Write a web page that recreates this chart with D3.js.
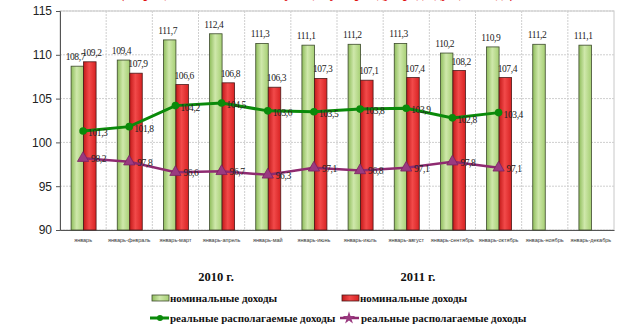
<!DOCTYPE html>
<html><head><meta charset="utf-8">
<script src="https://cdn.jsdelivr.net/npm/d3@7"></script>
<style>body{margin:0;background:#fff}svg{display:block}</style>
</head><body>
<svg id="c" width="634" height="333"></svg>
<script>
const categories = ["январь","январь-февраль","январь-март","январь-апрель","январь-май","январь-июнь","январь-июль","январь-август","январь-сентябрь","январь-октябрь","январь-ноябрь","январь-декабрь"];
const nominal2010 = [108.7,109.4,111.7,112.4,111.3,111.1,111.2,111.3,110.2,110.9,111.2,111.1];
const nominal2011 = [109.2,107.9,106.6,106.8,106.3,107.3,107.1,107.4,108.2,107.4];
const real2010 = [101.3,101.8,104.2,104.5,103.6,103.5,103.8,103.9,102.8,103.4];
const real2011 = [98.2,97.8,96.6,96.7,96.3,97.1,96.8,97.1,97.8,97.1];
const yTicks = [90,95,100,105,110,115];
const yearLabels = ["2010 г.","2011 г."];
const legendLabels = ["номинальные доходы","номинальные доходы","реальные располагаемые доходы","реальные располагаемые доходы"];
const title = "(в процентах к соответствующему периоду предыдущего года)";

const svg = d3.select("#c");
const fmt = v => String(v.toFixed(1)).replace(".", ",");

const defs = svg.append("defs");
function grad(id, stops){
  const g = defs.append("linearGradient").attr("id", id).attr("x1","0").attr("x2","1").attr("y1","0").attr("y2","0");
  stops.forEach(s => g.append("stop").attr("offset", s[0]).attr("stop-color", s[1]));
}
grad("gG", [[0,"#8fbd5c"],[0.45,"#cfe8ab"],[1,"#a6cf74"]]);
grad("gR", [[0,"#c41a1a"],[0.45,"#f24a4a"],[1,"#d82222"]]);

// cut-off red title at top (only descenders visible, as in the reference)
svg.append("text").attr("x", 317).attr("y", -2).attr("text-anchor","middle")
  .attr("font-family","Liberation Serif").attr("font-weight","bold").attr("font-size",14)
  .attr("fill","#e01010").text(title);

const x = d3.scaleBand().domain(categories).range([60, 614]).padding(0);
const xs = d3.scaleBand().domain(["a","b"]).range([-12, 13]);
const y = d3.scaleLinear().domain([90, 115]).range([230, 11]);
const cx = c => x(c) + x.bandwidth()/2;

// plot frame
svg.append("rect").attr("x",60).attr("y",11).attr("width",554).attr("height",219)
  .attr("fill","#fff").attr("stroke","#c8c8c8");

// horizontal grid
svg.append("g").selectAll("line").data(yTicks).join("line")
  .attr("x1",60).attr("x2",614).attr("y1",d=>y(d)).attr("y2",d=>y(d))
  .attr("stroke","#cfcfcf").attr("stroke-dasharray","2,1");
// vertical grid
svg.append("g").selectAll("line").data(categories.slice(1)).join("line")
  .attr("x1",d=>x(d)).attr("x2",d=>x(d)).attr("y1",11).attr("y2",230)
  .attr("stroke","#cfcfcf").attr("stroke-dasharray","2,1");

// y axis
const ya = svg.append("g").attr("transform","translate(60,0)")
  .call(d3.axisLeft(y).tickValues(yTicks).tickSize(4).tickPadding(4));
ya.select(".domain").attr("stroke","#555");
ya.selectAll(".tick line").attr("stroke","#555");
ya.selectAll("text").attr("font-family","Liberation Sans").attr("font-size",12).attr("fill","#222");

// x axis
const xa = svg.append("g").attr("transform","translate(0,230)")
  .call(d3.axisBottom(x).tickSize(0).tickPadding(8));
xa.select(".domain").attr("stroke","#555");
xa.selectAll("text").attr("font-family","Liberation Sans").attr("font-size",5.5).attr("fill","#333");

// bars
svg.append("g").selectAll("rect").data(nominal2010).join("rect")
  .attr("x",(d,i)=>cx(categories[i])+xs("a")).attr("width",xs.bandwidth())
  .attr("y",d=>y(d)).attr("height",d=>230-y(d))
  .attr("fill","url(#gG)").attr("stroke","#3c4a2c").attr("stroke-width",0.8);
svg.append("g").selectAll("rect").data(nominal2011).join("rect")
  .attr("x",(d,i)=>cx(categories[i])+xs("b")).attr("width",xs.bandwidth())
  .attr("y",d=>y(d)).attr("height",d=>230-y(d))
  .attr("fill","url(#gR)").attr("stroke","#4a1a1a").attr("stroke-width",0.8);

const lblFont = sel => sel.attr("font-family","Liberation Serif").attr("font-size",9.5)
  .attr("letter-spacing",-0.4).attr("fill","#222");
svg.append("g").selectAll("text").data(nominal2010).join("text")
  .attr("x",(d,i)=>cx(categories[i])+xs("a")+xs.bandwidth()/2-2).attr("y",d=>y(d)-6)
  .attr("text-anchor","middle").text(fmt).call(lblFont);
svg.append("g").selectAll("text").data(nominal2011).join("text")
  .attr("x",(d,i)=>cx(categories[i])+xs("b")+xs.bandwidth()/2+2).attr("y",d=>y(d)-6)
  .attr("text-anchor","middle").text(fmt).call(lblFont);

// lines
const line = d3.line().x((d,i)=>cx(categories[i])).y(d=>y(d));
svg.append("path").datum(real2010).attr("d",line).attr("fill","none")
  .attr("stroke","#0a8a0a").attr("stroke-width",3);
svg.append("g").selectAll("circle").data(real2010).join("circle")
  .attr("cx",(d,i)=>cx(categories[i])).attr("cy",d=>y(d)).attr("r",3.8).attr("fill","#0a8a0a");
svg.append("path").datum(real2011).attr("d",line).attr("fill","none")
  .attr("stroke","#8e2a70").attr("stroke-width",2.5);
const tri = d3.symbol().type(d3.symbolTriangle).size(55);
svg.append("g").selectAll("path").data(real2011).join("path")
  .attr("d",tri).attr("transform",(d,i)=>`translate(${cx(categories[i])},${y(d)})`)
  .attr("fill","#9a3a80").attr("stroke","#7a2262").attr("stroke-width",0.8);

svg.append("g").selectAll("text").data(real2010).join("text")
  .attr("x",(d,i)=>cx(categories[i])+5).attr("y",d=>y(d)+5).text(fmt).call(lblFont);
svg.append("g").selectAll("text").data(real2011).join("text")
  .attr("x",(d,i)=>cx(categories[i])+8).attr("y",d=>y(d)+4).text(fmt).call(lblFont);

// year labels
svg.append("g").selectAll("text").data(yearLabels).join("text")
  .attr("x",(d,i)=>[216,418][i]).attr("y",281).attr("text-anchor","middle")
  .attr("font-family","Liberation Serif").attr("font-weight","bold").attr("font-size",12.5).attr("fill","#111").text(d=>d);

// legend
const lg = svg.append("g").attr("font-family","Liberation Serif").attr("font-weight","bold").attr("font-size",11).attr("fill","#111");
lg.append("rect").attr("x",152).attr("y",295).attr("width",17).attr("height",6).attr("fill","url(#gG)").attr("stroke","#3c4a2c").attr("stroke-width",0.8);
lg.append("rect").attr("x",342).attr("y",295).attr("width",17).attr("height",6).attr("fill","url(#gR)").attr("stroke","#4a1a1a").attr("stroke-width",0.8);
lg.append("line").attr("x1",150).attr("x2",169).attr("y1",318).attr("y2",318).attr("stroke","#0a8a0a").attr("stroke-width",3);
lg.append("circle").attr("cx",160).attr("cy",318).attr("r",3).attr("fill","#0a8a0a");
lg.append("line").attr("x1",340).attr("x2",359).attr("y1",318).attr("y2",318).attr("stroke","#8e2a70").attr("stroke-width",2.5);
lg.append("path").attr("d",d3.symbol().type(d3.symbolStar).size(50)).attr("transform","translate(349,318)").attr("fill","#9a3a80");
const lpos = [[170,302],[360,302],[170,322],[361,322]];
lg.selectAll("text").data(legendLabels).join("text")
  .attr("x",(d,i)=>lpos[i][0]).attr("y",(d,i)=>lpos[i][1]).text(d=>d);
</script>
</body></html>
